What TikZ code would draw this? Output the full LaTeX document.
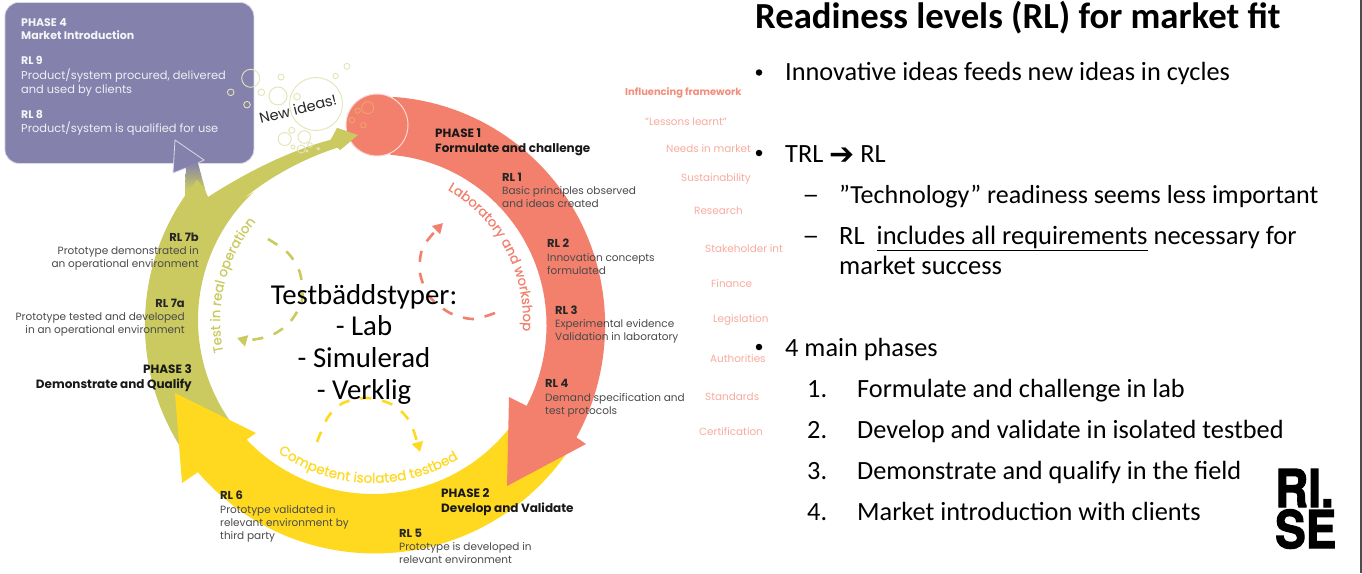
\documentclass[tikz,border=0pt]{standalone}
\usepackage{fontspec}
\usetikzlibrary{arrows.meta,decorations.text,shadings}
\setmainfont{Carlito}
\newfontfamily\gothic{Poppins}
\newfontfamily\gothicm[FakeBold=0.4]{Poppins}
\newfontfamily\dejavu{DejaVu Sans}
\newfontfamily\heros[FakeBold=2.5]{TeX Gyre Heros}
\definecolor{coral}{HTML}{F2806D}
\definecolor{olive}{HTML}{CACA60}
\definecolor{sun}{HTML}{FFD920}
\definecolor{plum}{HTML}{8481AC}
\definecolor{soft}{HTML}{F9AB9E}
\definecolor{bub}{HTML}{E4E4B4}
\definecolor{bubc}{HTML}{EDA868}
\definecolor{ink}{HTML}{4A4A4A}
\newcommand{\st}{\vrule height 10pt width 0pt}
\newcommand{\Cx}{373}
\newcommand{\Cy}{320}
\tikzset{
 x=1pt,y=-1pt,
 lbl/.style={inner sep=0pt,yshift=2pt,font=\gothic\fontsize{10.5}{13}\selectfont,text=ink,align=left,anchor=north west},
 lblr/.style={lbl,align=right,anchor=north east},
 rl/.style={inner sep=0pt,yshift=2pt,font=\gothic\bfseries\fontsize{11.5}{13}\selectfont,text=black!85,align=left,anchor=north west},
 rlr/.style={rl,align=right,anchor=north east},
 phase/.style={inner sep=0pt,yshift=2pt,font=\gothic\bfseries\fontsize{12}{15}\selectfont,text=black!90,align=left,anchor=north west},
 phaser/.style={phase,align=right,anchor=north east},
 boxhead/.style={rl,font=\gothic\bfseries\fontsize{11}{13}\selectfont,text=white!92!plum},
 boxtxt/.style={lbl,font=\gothic\fontsize{11.4}{13.4}\selectfont,text=white!88!plum},
 infl/.style={inner sep=0pt,font=\gothic\fontsize{10.4}{12}\selectfont,text=soft,anchor=base west},
 body/.style={inner sep=0pt,font=\fontsize{26.3}{30}\selectfont,anchor=base west},
 bullet/.style={fill=black,circle,inner sep=0pt,minimum size=6.5pt},
 bub1/.style={draw=bub,line width=0.9pt},
 bub2/.style={draw=bubc,line width=0.8pt},
 dashc/.style={line width=2.6pt,dash pattern=on 11pt off 11pt,-{Triangle[length=10pt,width=11pt]}},
 bendtext/.style={decorate,decoration={text along path,text align=center,text={#1}}},
}
\begin{document}
\begin{tikzpicture}
\useasboundingbox (0,0) rectangle (1362,573);
\fill[white] (0,0) rectangle (1362,573);
\fill[black!70] (1360,0) rectangle (1362,573);

% Phase 4 box
\node[draw=white!70!plum,line width=0.8pt,fill=plum,rounded corners=14pt,minimum width=249pt,minimum height=161pt,inner sep=0pt,anchor=north west] (box) at (4.5,2) {};

% olive branch to box
\fill[olive] (185,188) -- (185,205) -- (210,205) -- (204,186) -- cycle;
\shade[bottom color=olive,top color=plum] (186,168) -- (185,189) -- (205,189) -- (198,163) -- cycle;
\draw[draw=white!70!plum,line width=0.8pt,fill=plum] (186,168) -- (173,173) -- (175,140) -- (204,160) -- (198,163);

% olive band
\fill[olive] plot[domain=222:142,samples=50] ({\Cx+(225+(\x-142)*0.08)*cos(\x)},{\Cy-(225+(\x-142)*0.08)*sin(\x)})
  .. controls (195,175) and (205,190) .. (208,197) .. controls (250,170) and (295,148) .. (338,138) -- (337,128) -- (358,135) -- (340,150) -- (343,146) .. controls (315,154) and (275,172) .. (242,200)
  -- plot[domain=133:222,samples=50] ({\Cx+175*cos(\x)},{\Cy-175*sin(\x)}) -- cycle;

% yellow arrow
\fill[sun] plot[domain=325:221,samples=60] ({\Cx+(232+(\x-221)*0.03)*cos(\x)},{\Cy-(232+(\x-221)*0.03)*sin(\x)})
  -- (182,483) -- (175,393) -- (256,433) -- (246,440)
  -- plot[domain=223:325,samples=60] ({\Cx+174*cos(\x)},{\Cy-174*sin(\x)}) -- cycle;

% coral arrow
\fill[coral] plot[domain=85:-30,samples=60] ({\Cx+(224+(85-\x)*0.095)*cos(\x)},{\Cy-(224+(85-\x)*0.095)*sin(\x)})
  -- (586,444) -- (507,486) -- (509,397) -- (527,406)
  -- plot[domain=-29:84,samples=60] ({\Cx+(176-(\x+29)*0.088)*cos(\x)},{\Cy-(176-(\x+29)*0.088)*sin(\x)}) -- cycle;
\fill[coral,draw=white!70!coral,line width=1pt] (377,125) circle (31);
% olive tip on the circle
\fill[olive] (330,141) -- (337,128) -- (358,135) -- (340,150) -- cycle;

% bubbles
\foreach \bx/\by/\br in {250.7/78.3/9,230.7/92.3/3.3,247/104.7/3.3,261.3/92.3/3.3,281/77/3,278/96/9,316/104/26.5,297/96.7/3.3,335.7/76/2.7,347/66.3/3,291.7/130.3/3,284.7/139/6.5,304.3/137/6.3,293/147/2,301.3/149/4,310/145/2.3,307/151/1,318.3/148.7/1.2}
  \draw[bub1] (\bx,\by) circle (\br);
\foreach \bx/\by/\br in {367.7/107.7/6,357.7/110.7/2.7,352/120/2.7,363.3/125.3/2.7}
  \draw[bub2] (\bx,\by) circle (\br);
\node[inner sep=0pt,rotate=14,font=\gothic\fontsize{14.5}{16}\selectfont,text=black!85] (newideas) at (298,109) {New ideas!};

% curved captions
\path[bendtext=|\gothicm\fontsize{13.2}{15}\selectfont\color{coral}|Laboratory and workshop] plot[domain=66:-10,samples=60] ({\Cx+150*cos(\x)},{\Cy-150*sin(\x)});
\path[bendtext=|\gothicm\fontsize{13.2}{15}\selectfont\color{olive}|Test in real operation] plot[domain=196:136,samples=60] ({\Cx+153*cos(\x)},{\Cy-153*sin(\x)});
\path[bendtext=|\gothicm\fontsize{13.6}{15}\selectfont\color{sun}|Competent isolated testbed] plot[domain=231:305,samples=60] ({\Cx+163*cos(\x)},{\Cy-163*sin(\x)});

% dashed cycles
\draw[coral,dashc] plot[smooth] coordinates {(495,313) (473,319) (450,313) (430,297) (420,273) (423,247) (443,223)};
\draw[olive,dashc] plot[smooth] coordinates {(268,239) (288,253) (300,273) (302,300) (290,322) (272,335) (250,340) (237,338)};
\draw[sun,dashc] plot[smooth] coordinates {(317,442) (328,417) (343,403) (368,398) (393,405) (410,422) (420,452)};

% box text
\node[boxhead] (p4) at (21,18) {\st PHASE 4\\Market Introduction};
\node[boxhead] (r9) at (21,56) {\st RL 9};
\node[boxtxt] (t9) at (21,71) {\st Product/system procured, delivered\\and used by clients};
\node[boxhead] (r8) at (21,110) {\st RL 8};
\node[boxtxt] (t8) at (21,124) {\st Product/system is qualified for use};

% phase & RL labels
\node[phase] (p1) at (435,129) {\st PHASE 1\\Formulate and challenge};
\node[rl] (r1) at (502,173) {\st RL 1};
\node[lbl] (t1) at (502,186) {\st Basic principles observed\\and ideas created};
\node[rl] (r2) at (547,239) {\st RL 2};
\node[lbl] (t2) at (547,253) {\st Innovation concepts\\formulated};
\node[rl] (r3) at (555,306) {\st RL 3};
\node[lbl] (t3) at (555,319) {\st Experimental evidence\\Validation in laboratory};
\node[rl] (r4) at (545,379) {\st RL 4};
\node[lbl] (t4) at (545,393) {\st Demand specification and\\test protocols};
\node[phase] (p2) at (441,489) {\st PHASE 2\\Develop and Validate};
\node[rl] (r5) at (399,529) {\st RL 5};
\node[lbl] (t5) at (399,542) {\st Prototype is developed in\\relevant environment};
\node[rl] (r6) at (220,491) {\st RL 6};
\node[lbl] (t6) at (220,505) {\st Prototype validated in\\relevant environment by\\third party};
\node[rlr] (r7b) at (199,233) {\st RL 7b};
\node[lblr] (t7b) at (199,246) {\st Prototype demonstrated in\\an operational environment};
\node[rlr] (r7a) at (185,299) {\st RL 7a};
\node[lblr] (t7a) at (185,312) {\st Prototype tested and developed\\in an operational environment};
\node[phaser] (p3) at (192,365) {\st PHASE 3\\Demonstrate and Qualify};

% influencing framework
\node[infl,font=\gothic\bfseries\fontsize{9.9}{12}\selectfont,text=coral!90!white] (i0) at (625,95) {Influencing framework};
\node[infl] (i1) at (645,125) {”Lessons learnt”};
\node[infl] (i2) at (666,152) {Needs in market};
\node[infl] (i3) at (681,181) {Sustainability};
\node[infl] (i4) at (694,214) {Research};
\node[infl] (i5) at (705,252) {Stakeholder int};
\node[infl] (i6) at (711,287) {Finance};
\node[infl] (i7) at (713,322) {Legislation};
\node[infl] (i8) at (710,362) {Authorities};
\node[infl] (i9) at (705,400) {Standards};
\node[infl] (i10) at (699,435) {Certification};

% central text
\node[inner sep=0pt,align=center,font=\fontsize{28.8}{31.6}\selectfont,anchor=north] (types) at (364,281) {\vrule height 23pt width 0pt Testbäddstyper:\\- Lab\\- Simulerad\\- Verklig};

% right text
\node[inner sep=0pt,font=\bfseries\fontsize{36.7}{40}\selectfont,anchor=base west] (title) at (755,28) {Readiness levels (RL) for market fit};
\node[bullet] (b1) at (759,72.5) {};
\node[body] (l1) at (785,80) {Innovative ideas feeds new ideas in cycles};
\node[bullet] (b2) at (759,153) {};
\node[body] (l2) at (785,162) {TRL {\dejavu\fontsize{30}{30}\selectfont\raisebox{-2pt}{➔}} RL};
\node[body,xscale=1.3] (d1) at (802,203) {–};
\node[body,font=\fontsize{26.05}{30}\selectfont] (l3) at (839,203) {”Technology” readiness seems less important};
\node[body,xscale=1.3] (d2) at (802,244) {–};
\node[body,align=left,anchor=north west,font=\fontsize{26.5}{30}\selectfont] (l4) at (839,221) {\vrule height 23pt width 0pt RL\ \ \underline{includes all requirements} necessary for\\market success};
\node[bullet] (b3) at (759,347) {};
\node[body] (l5) at (785,356) {4 main phases};
\node[body] (n1) at (807,397) {1.};
\node[body] (s1) at (857,397) {Formulate and challenge in lab};
\node[body] (n2) at (807,438) {2.};
\node[body] (s2) at (857,438) {Develop and validate in isolated testbed};
\node[body] (n3) at (807,479) {3.};
\node[body] (s3) at (857,479) {Demonstrate and qualify in the field};
\node[body] (n4) at (807,520) {4.};
\node[body] (s4) at (857,520) {Market introduction with clients};

% logo
\node[inner sep=0pt,anchor=base west,font=\heros\bfseries\fontsize{52}{52}\selectfont,xscale=0.88] (logo1) at (1275,507) {RI.};
\node[inner sep=0pt,anchor=base west,font=\heros\bfseries\fontsize{52}{52}\selectfont,xscale=0.88] (logo2) at (1275,548) {SE};
\end{tikzpicture}
\end{document}
